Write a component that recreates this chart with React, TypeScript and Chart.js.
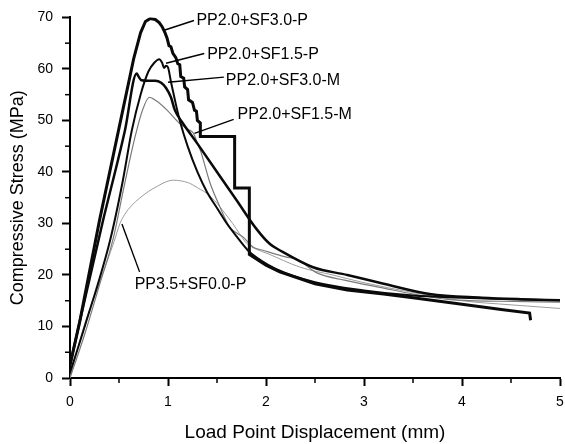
import React, { useEffect, useRef } from "react";
import { Chart, registerables } from "chart.js";

Chart.register(...registerables);

const FONT = "'Liberation Sans', Arial, Helvetica, sans-serif";

// Axis ticks
const xTicks = [0, 1, 2, 3, 4, 5];
const yTicks = [0, 10, 20, 30, 40, 50, 60, 70];
const xMinor = [0.5, 1.5, 2.5, 3.5, 4.5];
const yMinor = [5, 15, 25, 35, 45, 55, 65];

// Series names
const seriesNames = [
  "PP2.0+SF3.0-P",
  "PP2.0+SF1.5-P",
  "PP2.0+SF3.0-M",
  "PP2.0+SF1.5-M",
  "PP3.5+SF0.0-P",
];

// PP2.0+SF3.0-P (stepped descent)
const sf30pX = [0, 0.1, 0.3, 0.5, 0.65, 0.72, 0.77, 0.82, 0.87, 0.91, 0.94, 0.97, 0.99, 1.01, 1.03, 1.05, 1.08, 1.1, 1.12, 1.13, 1.16, 1.17, 1.2, 1.21, 1.25, 1.27, 1.29, 1.3, 1.33, 1.33, 1.68, 1.68, 1.83, 1.83, 2.0, 2.14, 2.5, 2.83, 3.2, 3.5, 4.0, 4.4, 4.69, 4.7];
const sf30pY = [2.5, 11, 30.5, 48.5, 62, 67, 69.2, 69.8, 69.6, 69, 68.2, 67, 66, 64.5, 64.3, 63, 62.2, 61, 60.8, 58.5, 58.2, 56.5, 56, 54, 53.5, 52, 51.8, 50, 49.5, 46.9, 46.9, 36.9, 36.9, 24, 21.9, 20.6, 18.3, 17.1, 16.3, 15.6, 14.3, 13.3, 12.6, 11.2];

// PP2.0+SF1.5-P
const sf15pX = [0, 0.15, 0.41, 0.54, 0.63, 0.72, 0.8, 0.86, 0.91, 0.94, 0.96, 0.98, 1.0, 1.03, 1.07, 1.12, 1.2, 1.3, 1.4, 1.5, 1.6, 1.7, 1.83, 1.95, 2.1, 2.5, 3.0, 3.5, 4.0, 4.5, 5.0];
const sf15pY = [1, 10, 26.8, 38.4, 48, 55, 59.5, 61.2, 61.9, 61.2, 60.2, 60.6, 60.3, 57.5, 54, 50, 45, 40, 36, 33, 30, 27.5, 24.5, 22.8, 21.2, 18.6, 17.0, 16.0, 15.6, 15.3, 15.1];

// PP2.0+SF3.0-M
const sf30mX = [0, 0.1, 0.33, 0.56, 0.68, 0.7, 0.73, 0.8, 0.87, 0.93, 0.98, 1.03, 1.07, 1.15, 1.3, 1.5, 1.7, 1.9, 2.04, 2.14, 2.48, 2.83, 3.2, 3.67, 4.2, 4.6, 5.0];
const sf30mY = [2.5, 11, 30, 48, 59.1, 58.5, 57.8, 57.7, 57.7, 57.3, 56.3, 54.5, 52, 49.5, 45.5, 40, 34.5, 29, 26, 24.8, 21.5, 20, 18.3, 16.3, 15.6, 15.3, 15.1];

// PP2.0+SF1.5-M
const sf15mX = [0, 0.15, 0.3, 0.44, 0.55, 0.66, 0.74, 0.81, 0.88, 0.99, 1.12, 1.2, 1.26, 1.3, 1.33, 1.43, 1.53, 1.63, 1.77, 1.87, 1.97, 2.2, 2.32, 2.52, 2.8, 3.19, 3.5, 3.88, 4.4, 5.0];
const sf15mY = [0, 8.5, 18, 27, 37, 46.5, 52, 54.5, 53.8, 52, 49.4, 48.3, 47.5, 45.5, 44.2, 37.8, 33.2, 29.3, 27.3, 25.4, 24.8, 23.5, 23.0, 20.4, 19.0, 17.5, 16.3, 15.2, 14.9, 14.7];

// PP3.5+SF0.0-P
const pp35X = [0, 0.13, 0.31, 0.45, 0.51, 0.56, 0.63, 0.71, 0.8, 0.89, 0.97, 1.05, 1.12, 1.22, 1.33, 1.4, 1.5, 1.58, 1.66, 1.73, 1.8, 1.9, 2.01, 2.35, 2.68, 3.0, 3.5, 4.0, 4.5, 5.0];
const pp35Y = [0, 9.3, 19, 26.5, 30, 31.8, 33.5, 34.9, 36.2, 37.2, 38, 38.4, 38.3, 37.8, 36.6, 35.8, 33.9, 32, 30, 28, 26.2, 25, 24.2, 21.5, 20, 18.5, 16.6, 15.0, 14.2, 13.5];

// Callout labels (data coordinates): pointer start, pointer end, text anchor
const calloutText = seriesNames;
const calloutFromX = [0.96, 0.98, 1.0, 1.27, 0.53];
const calloutFromY = [67.5, 61.1, 57.4, 47.5, 29.9];
const calloutToX = [1.265, 1.37, 1.57, 1.67, 0.71];
const calloutToY = [69.4, 63.0, 58.4, 50.2, 20.6];
const calloutTextX = [1.29, 1.40, 1.59, 1.71, 0.66];
const calloutTextY = [69.3, 62.8, 57.8, 51.2, 18.2];

const toPoints = (xs: number[], ys: number[]) => xs.map((x, i) => ({ x, y: ys[i] }));

const decorPlugin = {
  id: "decor",
  afterDatasetsDraw(chart: any) {
    const { ctx, scales } = chart;
    const xs = scales.x;
    const ys = scales.y;
    ctx.save();
    ctx.strokeStyle = "#000";
    ctx.lineWidth = 1.5;
    const bottom = ys.getPixelForValue(0);
    const left = xs.getPixelForValue(0);
    xMinor.forEach((v) => {
      const px = xs.getPixelForValue(v);
      ctx.beginPath();
      ctx.moveTo(px, bottom);
      ctx.lineTo(px, bottom + 5);
      ctx.stroke();
    });
    yMinor.forEach((v) => {
      const py = ys.getPixelForValue(v);
      ctx.beginPath();
      ctx.moveTo(left, py);
      ctx.lineTo(left - 5, py);
      ctx.stroke();
    });
    ctx.lineWidth = 1.4;
    ctx.fillStyle = "#000";
    ctx.font = `16px ${FONT}`;
    ctx.textAlign = "left";
    ctx.textBaseline = "middle";
    calloutText.forEach((t, i) => {
      ctx.beginPath();
      ctx.moveTo(xs.getPixelForValue(calloutFromX[i]), ys.getPixelForValue(calloutFromY[i]));
      ctx.lineTo(xs.getPixelForValue(calloutToX[i]), ys.getPixelForValue(calloutToY[i]));
      ctx.stroke();
      ctx.fillText(t, xs.getPixelForValue(calloutTextX[i]), ys.getPixelForValue(calloutTextY[i]));
    });
    ctx.restore();
  },
};

export default function App() {
  const ref = useRef<HTMLCanvasElement | null>(null);
  useEffect(() => {
    document.body.style.margin = "0";
    const canvas = ref.current;
    if (!canvas) return;
    const chart = new Chart(canvas, {
      type: "line",
      data: {
        datasets: [
          { label: seriesNames[0], data: toPoints(sf30pX, sf30pY), borderColor: "#0a0a0a", borderWidth: 3, tension: 0 },
          { label: seriesNames[1], data: toPoints(sf15pX, sf15pY), borderColor: "#0a0a0a", borderWidth: 2, cubicInterpolationMode: "monotone" },
          { label: seriesNames[2], data: toPoints(sf30mX, sf30mY), borderColor: "#0a0a0a", borderWidth: 2.5, cubicInterpolationMode: "monotone" },
          { label: seriesNames[3], data: toPoints(sf15mX, sf15mY), borderColor: "#7a7a7a", borderWidth: 1.2, cubicInterpolationMode: "monotone" },
          { label: seriesNames[4], data: toPoints(pp35X, pp35Y), borderColor: "#9c9c9c", borderWidth: 1, cubicInterpolationMode: "monotone" },
        ] as any,
      },
      options: {
        responsive: false,
        animation: false,
        elements: { point: { radius: 0 }, line: { fill: false } },
        layout: { padding: { top: 17, right: 5, left: 0, bottom: 0 } },
        plugins: { legend: { display: false }, tooltip: { enabled: false } },
        scales: {
          x: {
            type: "linear",
            min: 0,
            max: 5,
            afterBuildTicks: (s: any) => {
              s.ticks = xTicks.map((v) => ({ value: v }));
            },
            afterFit: (s: any) => {
              s.height = 66;
              s.paddingLeft = 0;
              s.paddingRight = 0;
            },
            ticks: { color: "#000", font: { family: FONT, size: 14 }, padding: 8, maxRotation: 0 },
            grid: { drawOnChartArea: false, drawTicks: true, tickLength: 8, tickColor: "#000", tickWidth: 2 },
            border: { display: true, color: "#000", width: 2 },
            title: {
              display: true,
              text: "Load Point Displacement (mm)",
              color: "#000",
              font: { family: FONT, size: 19 },
              padding: { top: 0, bottom: 0 },
            },
          },
          y: {
            type: "linear",
            min: 0,
            max: 70,
            afterBuildTicks: (s: any) => {
              s.ticks = yTicks.map((v) => ({ value: v }));
            },
            afterFit: (s: any) => {
              s.width = 70;
            },
            ticks: { color: "#000", font: { family: FONT, size: 14 }, padding: 9 },
            grid: { drawOnChartArea: false, drawTicks: true, tickLength: 8, tickColor: "#000", tickWidth: 2 },
            border: { display: true, color: "#000", width: 2 },
            title: {
              display: true,
              text: "Compressive Stress (MPa)",
              color: "#000",
              font: { family: FONT, size: 18 },
              padding: { top: 7, bottom: 0 },
            },
          },
        },
      } as any,
      plugins: [decorPlugin],
    });
    return () => chart.destroy();
  }, []);
  return (
    <div style={{ position: "fixed", left: 0, top: 0, width: 565, height: 444, background: "#fff" }}>
      <canvas ref={ref} width={565} height={444} />
    </div>
  );
}
